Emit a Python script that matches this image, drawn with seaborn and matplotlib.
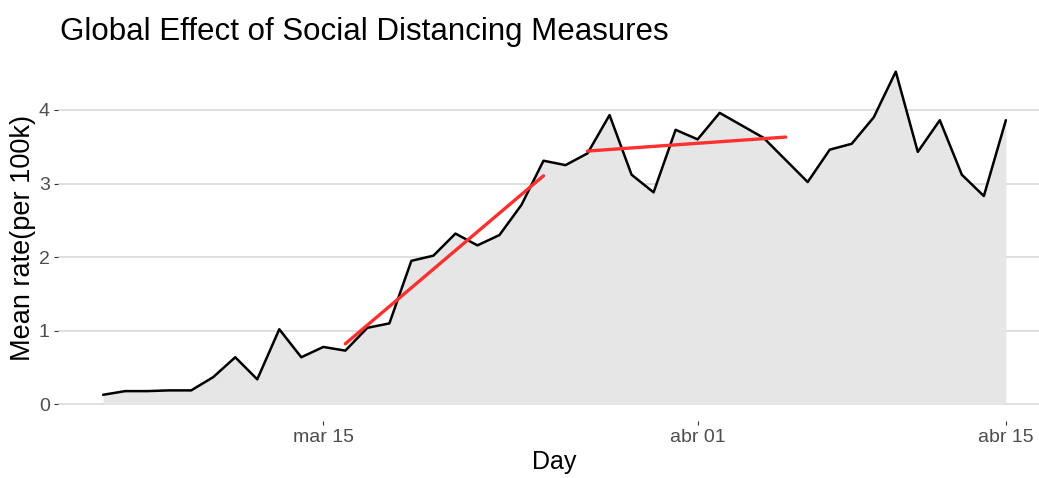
import numpy as np
import pandas as pd
import matplotlib
matplotlib.use("Agg")
import matplotlib.pyplot as plt
import matplotlib.dates as mdates
import seaborn as sns

# ---- data ----
start_date = "2020-03-05"
rate = [0.13, 0.18, 0.18, 0.19, 0.19, 0.37, 0.64, 0.34, 1.02, 0.64,
        0.78, 0.73, 1.04, 1.10, 1.95, 2.02, 2.32, 2.16, 2.30, 2.71,
        3.31, 3.25, 3.41, 3.93, 3.12, 2.88, 3.73, 3.60, 3.96, 3.79,
        3.62, 3.32, 3.02, 3.46, 3.54, 3.90, 4.52, 3.43, 3.86, 3.12,
        2.83, 3.86]
fit1_range = ["2020-03-16", "2020-03-25"]
fit2_range = ["2020-03-27", "2020-04-05"]
tick_dates = ["2020-03-15", "2020-04-01", "2020-04-15"]
tick_labels = ["mar 15", "abr 01", "abr 15"]
y_ticks = [0, 1, 2, 3, 4]

days = pd.date_range(start_date, periods=len(rate), freq="D")
df = pd.DataFrame({"day": days, "rate": rate})
df["x"] = mdates.date2num(df["day"])

sns.set_theme(style="white")
plt.rcParams["font.family"] = ["Liberation Sans", "DejaVu Sans"]

fig = plt.figure(figsize=(10.39, 4.78), dpi=100)
left = 58 / 1039
right = 1051 / 1039
bottom = (478 - 421) / 478
top = 1 - 55 / 478
ax = fig.add_axes([left, bottom, right - left, top - bottom])

ax.fill_between(df["x"], 0, df["rate"], color="#e6e6e6", linewidth=0, zorder=1)
sns.lineplot(data=df, x="x", y="rate", color="black", linewidth=1.8, ax=ax, zorder=3)

for rng in (fit1_range, fit2_range):
    sub = df[(df["day"] >= rng[0]) & (df["day"] <= rng[1])]
    sns.regplot(data=sub, x="x", y="rate", scatter=False, ci=None, truncate=True,
                color="#ff3030", line_kws={"linewidth": 2.4, "zorder": 4}, ax=ax)

xr = df["x"].max() - df["x"].min()
ax.set_xlim(df["x"].min() - 0.05 * xr, df["x"].max() + 0.05 * xr)
ymax = max(rate)
ax.set_ylim(-0.05 * ymax, ymax * 1.05)

ax.set_xticks(mdates.date2num(pd.to_datetime(tick_dates)))
ax.set_xticklabels(tick_labels)
ax.set_yticks(y_ticks)
ax.set_yticklabels([str(v) for v in y_ticks])

ax.grid(axis="y", color="#d9d9d9", linewidth=1.2, zorder=0)
ax.grid(axis="x", visible=False)
ax.set_axisbelow(True)
for s in ax.spines.values():
    s.set_visible(False)

ax.tick_params(axis="both", which="both", length=3, width=0.8, color="#333333",
               labelcolor="#4d4d4d", labelsize=14, pad=3, bottom=True, left=True)

ax.set_xlabel("Day", fontsize=18, color="black", labelpad=3)
ax.set_ylabel("Mean rate(per 100k)", fontsize=19.5, color="black", labelpad=2)
fig.text(60 / 1039, 1 - 32 / 478, "Global Effect of Social Distancing Measures",
         fontsize=22.5, color="black", va="center", ha="left")

fig.savefig("out.png", dpi=100, facecolor="white")
